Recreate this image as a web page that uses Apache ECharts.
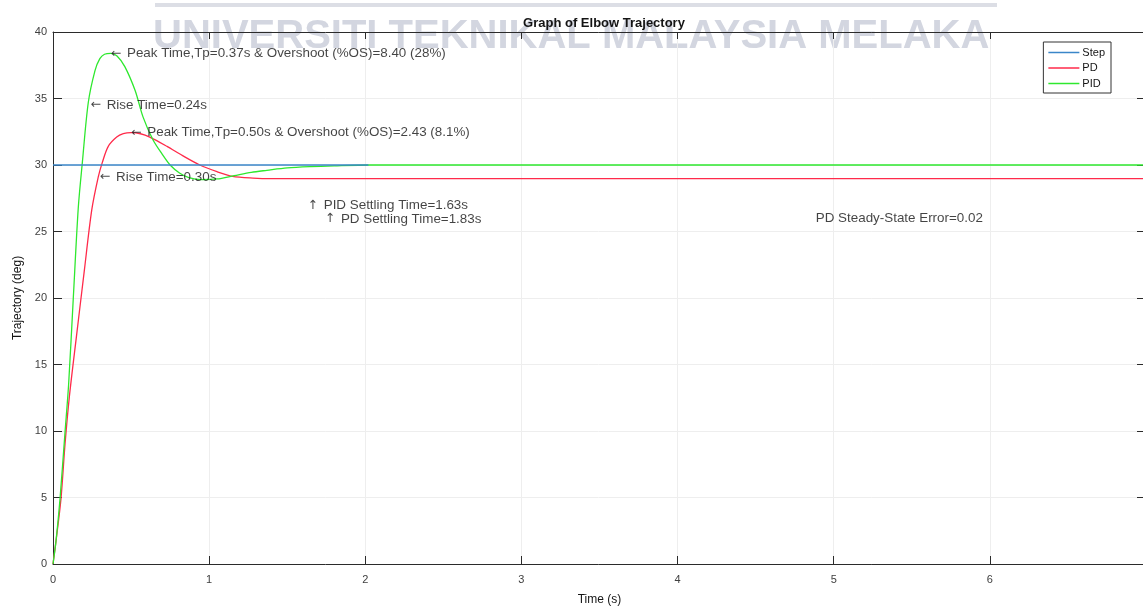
<!DOCTYPE html>
<html>
<head>
<meta charset="utf-8">
<title>Graph of Elbow Trajectory</title>
<script src="https://cdn.jsdelivr.net/npm/echarts@6/dist/echarts.min.js"></script>
<style>
  html, body { margin: 0; padding: 0; background: #ffffff; }
  #chart { width: 1143px; height: 609px; }
</style>
</head>
<body>
<div id="chart"></div>
<script>
// Time axis ticks (s) and trajectory ticks (deg)
const xTicks = [0, 1, 2, 3, 4, 5, 6, 7];
const yTicks = [0, 5, 10, 15, 20, 25, 30, 35, 40];

// Step reference input
const stepTime = [0, 2.02];
const stepDeg = [30, 30];

// PD controller response
const pdTime = [0, 0.02, 0.051, 0.077, 0.105, 0.15, 0.2, 0.248, 0.29, 0.316, 0.354, 0.408, 0.45, 0.50, 0.56, 0.62, 0.73, 0.83, 0.94, 1.05, 1.15, 1.28, 1.4, 2.0, 7];
const pdDeg  = [0, 1.8, 4.9, 9.0, 12.6, 17.1, 22.0, 26.6, 29.1, 30.2, 31.4, 32.1, 32.35, 32.43, 32.35, 32.1, 31.4, 30.7, 30.0, 29.5, 29.15, 29.02, 28.98, 28.98, 28.98];

// PID controller response
const pidTime = [0, 0.02, 0.045, 0.077, 0.1, 0.13, 0.162, 0.188, 0.226, 0.269, 0.3, 0.33, 0.37, 0.41, 0.46, 0.526, 0.577, 0.64, 0.7, 0.75, 0.81, 0.87, 0.95, 1.05, 1.16, 1.27, 1.37, 1.5, 1.65, 1.8, 2.03, 7];
const pidDeg  = [0, 1.8, 4.9, 9.9, 13.5, 20.0, 26.8, 30.2, 34.7, 37.1, 38.0, 38.33, 38.40, 38.2, 37.4, 35.6, 33.6, 31.9, 30.8, 30.0, 29.4, 29.05, 28.9, 28.95, 29.2, 29.45, 29.6, 29.78, 29.88, 29.94, 30, 30];

// Response annotations: [time, deg, text]
const notes = [
  [0.37, 38.40, '\u2190 Peak Time,Tp=0.37s & Overshoot (%OS)=8.40 (28%)'],
  [0.24, 34.5, '\u2190 Rise Time=0.24s'],
  [0.50, 32.43, '\u2190 Peak Time,Tp=0.50s & Overshoot (%OS)=2.43 (8.1%)'],
  [0.30, 29.1, '\u2190 Rise Time=0.30s'],
  [1.63, 26.95, '\u2191 PID Settling Time=1.63s'],
  [1.74, 25.95, '\u2191 PD Settling Time=1.83s'],
  [4.885, 25.97, 'PD Steady-State Error=0.02']
];

const seriesNames = ['Step', 'PD', 'PID'];
const seriesColors = ['#3a86c8', '#ff2a4a', '#2ee82e'];

const zip = (xs, ys) => xs.map((x, i) => [x, ys[i]]);

const FONT = '"Liberation Sans", Arial, sans-serif';
const AXIS_COLOR = '#2b2b2b';
const TEXT_COLOR = '#141414';

const chart = echarts.init(document.getElementById('chart'), null, { renderer: 'canvas' });

const baseX = {
  type: 'value',
  min: xTicks[0],
  max: xTicks[xTicks.length - 1],
  interval: 1
};
const baseY = {
  type: 'value',
  min: yTicks[0],
  max: yTicks[yTicks.length - 1],
  interval: 5
};

const lineSeries = (name, data, color, z) => ({
  name,
  type: 'line',
  data,
  showSymbol: false,
  symbol: 'none',
  smooth: 0.3,
  color,
  lineStyle: { color, width: 1.3 },
  emphasis: { disabled: true },
  z
});

// Arrow glyphs at the start of a note are set in a font with fuller arrows
const noteFormatter = p => p.data.text.replace(/^([\u2190\u2191]) /, '{a|$1} ');

chart.setOption({
  animation: false,
  backgroundColor: '#ffffff',
  textStyle: { fontFamily: FONT },
  title: {
    text: 'Graph of Elbow Trajectory',
    left: 599,
    textAlign: 'center',
    top: 12,
    textStyle: { fontFamily: FONT, fontSize: 13, fontWeight: 'bold', color: TEXT_COLOR }
  },
  graphic: [
    {
      type: 'rect',
      z: -1,
      shape: { x: 155, y: 3, width: 842, height: 4 },
      style: { fill: '#dcdee5' }
    },
    {
      type: 'text',
      z: -1,
      left: 153,
      top: 17,
      style: {
        text: 'UNIVERSITI TEKNIKAL MALAYSIA MELAKA',
        font: 'bold 40px ' + FONT,
        fill: '#d3d6e0'
      }
    }
  ],
  legend: {
    data: seriesNames,
    orient: 'vertical',
    right: 32,
    top: 42,
    padding: [5, 6, 4, 5],
    icon: 'rect',
    itemWidth: 31,
    itemHeight: 1.5,
    itemGap: 4.5,
    borderColor: '#333333',
    borderWidth: 1,
    backgroundColor: '#ffffff',
    selectedMode: false,
    textStyle: { fontFamily: FONT, fontSize: 11, color: TEXT_COLOR, padding: [0, 0, 0, -2] }
  },
  grid: {
    left: 53,
    top: 32,
    width: 1093,
    height: 532,
    outerBoundsMode: 'none',
    containLabel: false
  },
  xAxis: [
    Object.assign({}, baseX, {
      position: 'bottom',
      name: 'Time (s)',
      nameLocation: 'middle',
      nameGap: 30,
      nameTextStyle: { fontFamily: FONT, fontSize: 12, color: TEXT_COLOR },
      axisLine: { show: true, lineStyle: { color: AXIS_COLOR, width: 1 } },
      axisTick: { show: true, inside: true, length: 8, lineStyle: { color: AXIS_COLOR } },
      axisLabel: { margin: 10, fontFamily: FONT, fontSize: 11, color: '#404040' },
      splitLine: { show: true, lineStyle: { color: '#eeeeee', width: 1 } }
    }),
    Object.assign({}, baseX, {
      position: 'top',
      axisLine: { show: true, onZero: false, lineStyle: { color: AXIS_COLOR, width: 1 } },
      axisTick: { show: true, inside: true, length: 7, lineStyle: { color: AXIS_COLOR } },
      axisLabel: { show: false },
      splitLine: { show: false }
    })
  ],
  yAxis: [
    Object.assign({}, baseY, {
      position: 'left',
      name: 'Trajectory (deg)',
      nameLocation: 'middle',
      nameGap: 28,
      nameTextStyle: { fontFamily: FONT, fontSize: 12, color: TEXT_COLOR },
      axisLine: { show: true, onZero: false, lineStyle: { color: AXIS_COLOR, width: 1 } },
      axisTick: { show: true, inside: true, length: 9, lineStyle: { color: AXIS_COLOR } },
      axisLabel: { margin: 6, fontFamily: FONT, fontSize: 11, color: '#404040' },
      splitLine: { show: true, lineStyle: { color: '#eeeeee', width: 1 } }
    }),
    Object.assign({}, baseY, {
      position: 'right',
      axisLine: { show: true, onZero: false, lineStyle: { color: AXIS_COLOR, width: 1 } },
      axisTick: { show: true, inside: true, length: 9, lineStyle: { color: AXIS_COLOR } },
      axisLabel: { show: false },
      splitLine: { show: false }
    })
  ],
  series: [
    lineSeries(seriesNames[0], zip(stepTime, stepDeg), seriesColors[0], 4),
    lineSeries(seriesNames[1], zip(pdTime, pdDeg), seriesColors[1], 2),
    lineSeries(seriesNames[2], zip(pidTime, pidDeg), seriesColors[2], 3),
    {
      name: 'notes',
      type: 'scatter',
      data: notes.map(n => ({ value: [n[0], n[1]], text: n[2] })),
      symbolSize: 0,
      silent: true,
      z: 5,
      emphasis: { disabled: true },
      label: {
        show: true,
        position: [0, 0],
        align: 'left',
        verticalAlign: 'middle',
        fontFamily: FONT,
        fontSize: 13.4,
        color: TEXT_COLOR,
        formatter: noteFormatter,
        rich: {
          a: {
            fontFamily: '"DejaVu Sans", sans-serif',
            fontSize: 12.5,
            color: TEXT_COLOR,
            padding: [0, 2, 0, 0]
          }
        }
      }
    }
  ]
});
</script>
</body>
</html>
